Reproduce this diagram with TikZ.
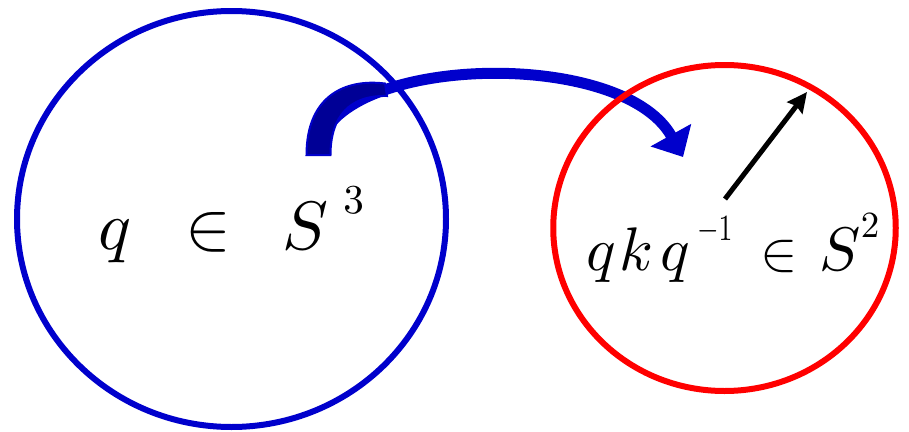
\documentclass[tikz,border=0pt]{standalone}
\usepackage{tikz}
\usetikzlibrary{arrows.meta,positioning}

\definecolor{sthree}{RGB}{0,0,204}
\definecolor{sthreedark}{RGB}{0,0,150}
\definecolor{stwo}{RGB}{255,0,0}

\tikzset{
    rim/.style={line width=0.12cm},
    lbl/.style={inner sep=0pt, anchor=base west}
}

\begin{document}
\begin{tikzpicture}[>=stealth]

\useasboundingbox (0,0) rectangle (18.18,8.62);

\coordinate (bluec) at (4.63,4.24);
\coordinate (redc) at (14.49,4.06);
\coordinate (arrS) at (6.37,5.52);
\coordinate (arrE) at (13.66,5.48);
\coordinate (vecS) at (14.50,4.64);
\coordinate (vecE) at (16.14,6.78);

% the map q -> q k q^{-1}
\draw[sthree, line width=0.22cm, -{Triangle[width=0.9cm,length=0.5cm]}]
    (arrS) .. controls (6.37,7.5) and (12.4,7.75) .. (arrE);
\filldraw[fill=sthreedark, draw=sthree, line width=0.04cm]
    (6.13,5.52) .. controls (6.13,6.7) and (6.9,7.05) .. (7.7,6.95)
    -- (7.74,6.7) .. controls (7.0,6.72) and (6.61,6.3) .. (6.61,5.52) -- cycle;

\draw[sthree, rim] (bluec) ellipse (4.29cm and 4.16cm);
\draw[stwo, rim] (redc) ellipse (3.425cm and 3.26cm);

\draw[line width=0.1cm, -{Stealth[length=0.4cm,width=0.38cm,inset=0.05cm]}] (vecS) -- (vecE);

\node[lbl, scale=3.9] (qlbl) at (1.94,3.64)
    {$q\hspace{0.51em}\in\hspace{0.47em}S^{\hspace{0.22em}\raisebox{1.5pt}{\scalebox{0.6}{$3$}}}$};
\node[lbl, scale=3.5] (qkqlbl) at (11.70,3.22)
    {$q\mkern1mu k\mkern2mu q^{\hspace{0.12em}\raisebox{1.2pt}{\scalebox{0.45}[0.6]{$-1$}}}$%
     \hspace{0.40em}\scalebox{0.91}{$\in$}\hspace{0.36em}$S^{\raisebox{1.6pt}{\scalebox{0.6}{$2$}}}$};

\end{tikzpicture}
\end{document}
